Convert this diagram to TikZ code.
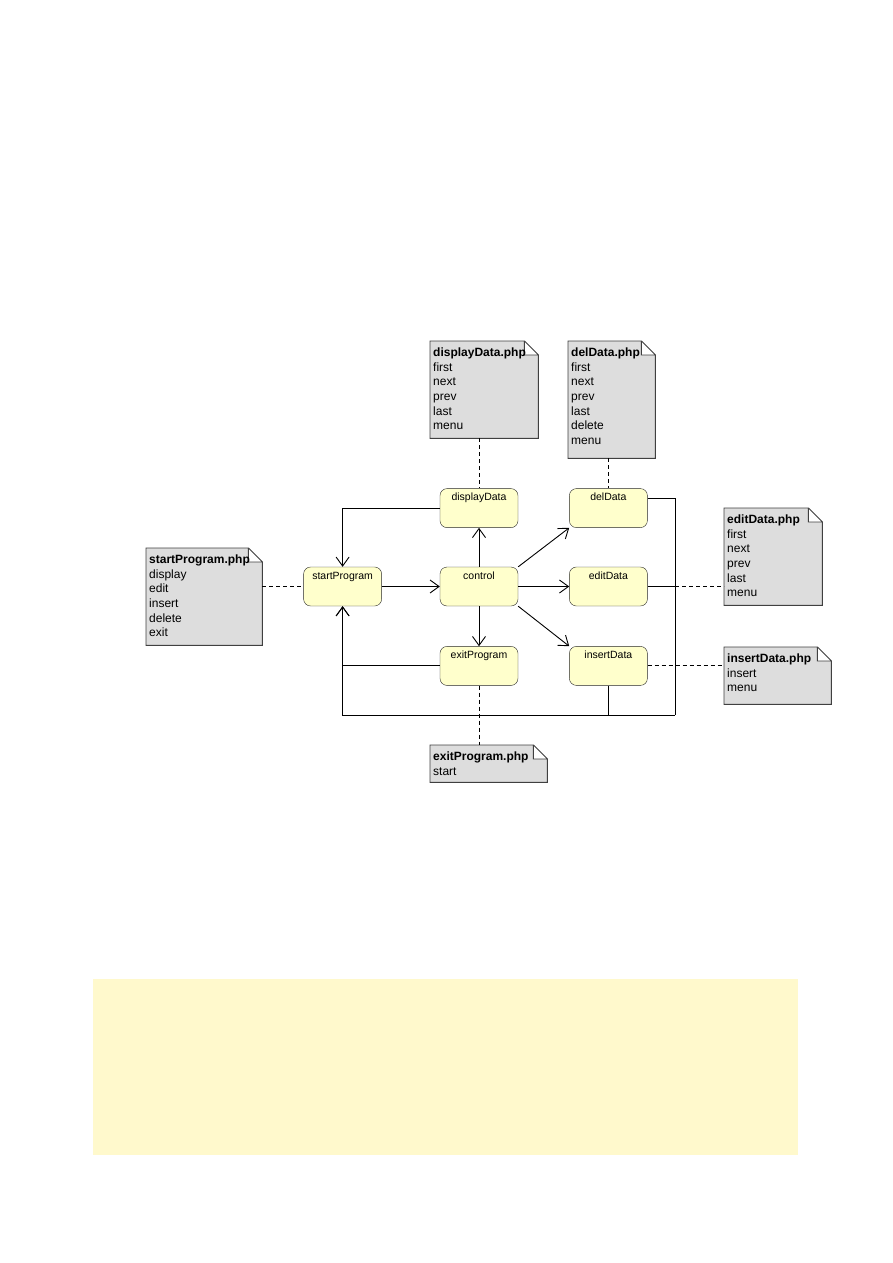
\documentclass[tikz,border=0pt]{standalone}
\usepackage{fontspec}
\setmainfont{Liberation Sans}
\usepackage{xcolor}
\usetikzlibrary{positioning, arrows.meta, backgrounds}

\definecolor{stateyellow}{RGB}{255,255,204}
\definecolor{notegray}{RGB}{221,221,221}
\definecolor{panelyellow}{RGB}{255,249,204}

\begin{document}
\begin{tikzpicture}[
  x=1pt, y=-1pt,
  node distance=40pt and 51pt,
  state/.style={draw=black!85, fill=stateyellow, rounded corners=7pt, minimum width=78pt, minimum height=39pt,
    inner xsep=2pt, inner ysep=4pt, text height=8pt, text depth=23pt, font=\fontsize{10.5}{12}\selectfont},
  phpnote/.style={anchor=north west, inner xsep=3pt, inner ysep=5pt, align=left, font=\fontsize{12}{14.7}\selectfont},
  notefill/.style={draw=black!75, fill=notegray, line width=0.9pt},
  arr/.style={-{Straight Barb[length=9pt, width=13pt]}, line width=0.9pt},
  line/.style={line width=0.9pt},
  notelink/.style={dashed, dash pattern=on 4pt off 3pt, line width=0.9pt},
]
\useasboundingbox (0,0) rectangle (893,1263);

% === States ===
\node[state] (control) at (479,586.5) {control};
\node[state, left=58pt of control] (startProgram) {startProgram};
\node[state, right=of control] (editData) {editData};
\node[state, above=39pt of control] (displayData) {displayData};
\node[state, below=of control] (exitProgram) {exitProgram};
\node[state, above=39pt of editData] (delData) {delData};
\node[state, below=of editData] (insertData) {insertData};

% === Notes ===
\node[phpnote] (startNote) at (146,548) {\parbox[t][87pt][t]{110pt}{\strut\textbf{startProgram.php}\\display\\edit\\insert\\delete\\exit}};
\node[phpnote] (dispNote) at (430,341) {\parbox[t][87pt][t]{102pt}{\strut\textbf{displayData.php}\\first\\next\\prev\\last\\menu}};
\node[phpnote] (delNote) at (568,341) {\parbox[t][107pt][t]{81pt}{\strut\textbf{delData.php}\\first\\next\\prev\\last\\delete\\menu}};
\node[phpnote] (editNote) at (724,508) {\parbox[t][87pt][t]{92pt}{\strut\textbf{editData.php}\\first\\next\\prev\\last\\menu}};
\node[phpnote] (insertNote) at (724,647) {\parbox[t][47pt][t]{101pt}{\strut\textbf{insertData.php}\\insert\\menu}};
\node[phpnote] (exitNote) at (430,745) {\parbox[t][27pt][t]{111pt}{\strut\textbf{exitProgram.php}\\start}};

% === Transitions ===
\draw[arr] (startProgram) -- (control);
\draw[arr] (control) -- (displayData);
\draw[arr] (control) -- (exitProgram);
\draw[arr] (control) -- (editData);
\draw[arr] (control.north east) -- (delData.south west);
\draw[arr] (control.south east) -- (insertData.north west);
\draw[arr] (displayData.west) -| (startProgram.north);
\draw[arr] (exitProgram.west) -| (startProgram.south);

% return loop back to startProgram
\coordinate (loopSE) at (675,715);
\draw[line] ([yshift=10pt]delData.east) -| (loopSE);
\draw[arr] (loopSE) -| (startProgram.south);
\draw[line] (insertData.south) -- (insertData |- loopSE);
\draw[line] (editData.east) -- (editData.east -| loopSE);

% === Note links ===
\draw[notelink] (startNote.east |- startProgram.west) -- (startProgram.west);
\draw[notelink] (dispNote.south -| displayData.north) -- (displayData.north);
\draw[notelink] (delNote.south -| delData.north) -- (delData.north);
\draw[notelink] (editData.east -| loopSE) -- (editNote.west |- editData.east);
\draw[notelink] (insertData.east) -- (insertNote.west |- insertData.east);
\draw[notelink] (exitProgram.south) -- (exitNote.north -| exitProgram.south);

% === Note outlines with folded corner ===
\begin{scope}[on background layer]
  \foreach \n in {startNote, dispNote, delNote, editNote, insertNote, exitNote}
    \draw[notefill] (\n.north west) -- ([xshift=-14pt]\n.north east) -- ([yshift=-14pt]\n.north east)
      -- (\n.south east) -- (\n.south west) -- cycle
      ([xshift=-14pt]\n.north east) -- ([xshift=-14pt, yshift=-14pt]\n.north east) -- ([yshift=-14pt]\n.north east);
  \fill[panelyellow] (93,979) rectangle (798,1155);
\end{scope}

\end{tikzpicture}
\end{document}
